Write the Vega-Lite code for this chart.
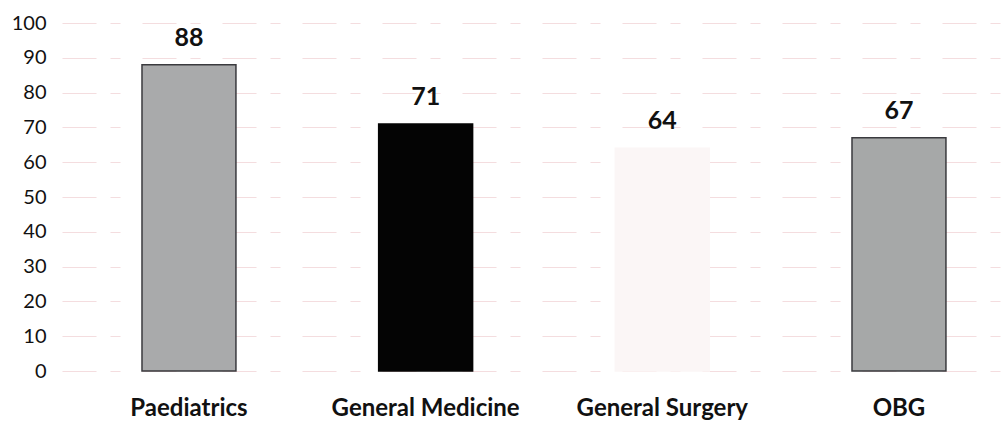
{
  "$schema": "https://vega.github.io/schema/vega-lite/v6.json",
  "autosize": {"type": "none"},
  "padding": {"left": 62, "top": 23, "right": 0, "bottom": 52},
  "width": 940,
  "height": 348,
  "background": "white",
  "config": {
    "font": "Lato",
    "view": {"stroke": null}
  },
  "data": {
    "values": [
      {"dept": "Paediatrics", "value": 88},
      {"dept": "General Medicine", "value": 71},
      {"dept": "General Surgery", "value": 64},
      {"dept": "OBG", "value": 67}
    ]
  },
  "encoding": {
    "x": {
      "field": "dept",
      "type": "nominal",
      "sort": null,
      "scale": {"paddingInner": 0.603, "paddingOuter": 0.2874, "align": 0.588},
      "axis": {
        "title": null,
        "labelAngle": 0,
        "labelFont": "Lato",
        "labelFontSize": 24,
        "labelFontWeight": "bold",
        "labelColor": "#111111",
        "labelPadding": 25,
        "labelLimit": 400,
        "domain": false,
        "ticks": false,
        "grid": false
      }
    },
    "y": {
      "field": "value",
      "type": "quantitative",
      "scale": {"domain": [0, 100], "nice": false},
      "axis": {
        "title": null,
        "values": [0, 10, 20, 30, 40, 50, 60, 70, 80, 90, 100],
        "labelFont": "Lato",
        "labelFontSize": 20,
        "labelColor": "#111111",
        "labelPadding": 16,
        "domain": false,
        "ticks": false,
        "grid": true,
        "gridColor": "#e3a9b0",
        "gridOpacity": 0.4,
        "gridDash": [34, 14, 10, 22],
        "gridWidth": 1
      }
    }
  },
  "layer": [
    {
      "mark": {"type": "bar", "strokeWidth": 1.5},
      "encoding": {
        "color": {
          "field": "dept",
          "type": "nominal",
          "scale": {
            "domain": ["Paediatrics", "General Medicine", "General Surgery", "OBG"],
            "range": ["#a9aaab", "#040404", "#fbf6f6", "#a6a8a8"]
          },
          "legend": null
        },
        "stroke": {
          "field": "dept",
          "type": "nominal",
          "scale": {
            "domain": ["Paediatrics", "General Medicine", "General Surgery", "OBG"],
            "range": ["#3a3a3e", "#040404", "#fbf6f6", "#3a3a3e"]
          },
          "legend": null
        }
      }
    },
    {
      "mark": {
        "type": "text",
        "dy": -19,
        "baseline": "alphabetic",
        "font": "Lato",
        "fontSize": 25,
        "fontWeight": "bold",
        "color": "#111111"
      },
      "encoding": {
        "text": {"field": "value", "type": "quantitative"}
      }
    }
  ]
}
